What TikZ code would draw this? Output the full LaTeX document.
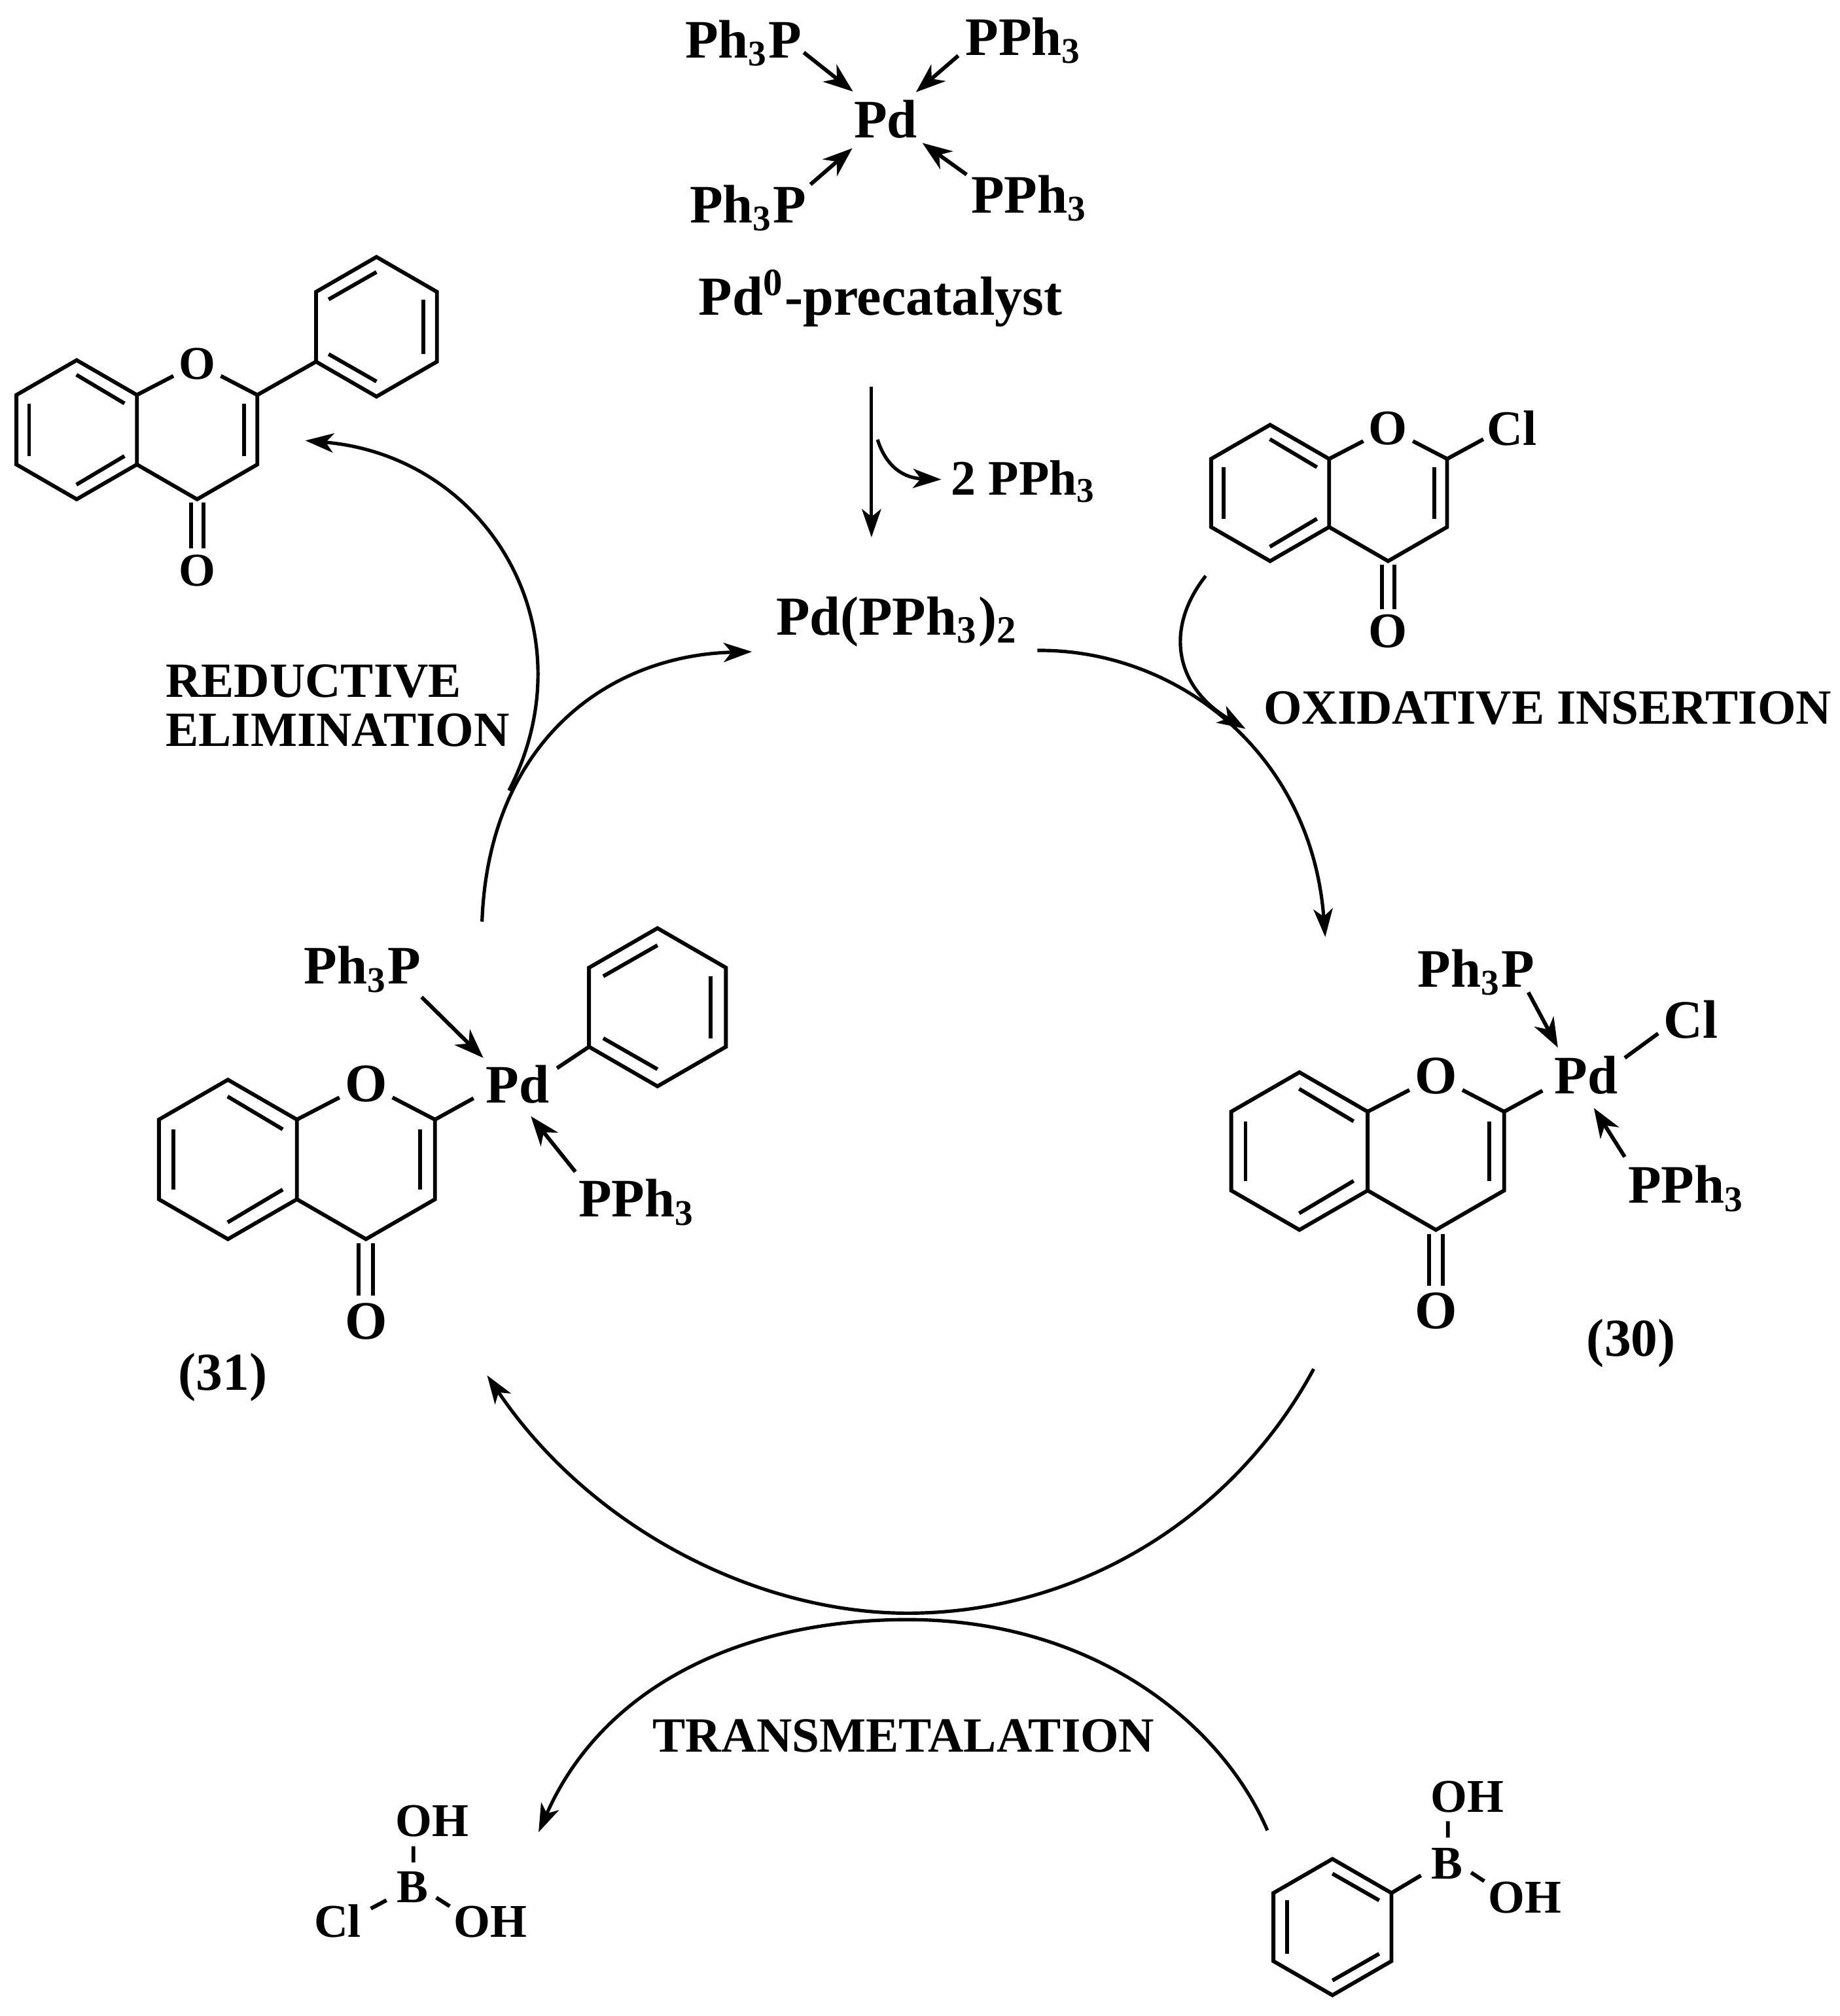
\documentclass[tikz,border=0pt]{standalone}
\usepackage{fontspec}
\setmainfont{Liberation Serif}
\usetikzlibrary{arrows.meta,calc}
\tikzset{
  bond/.style={line width=0.85pt},
  dat/.style={line width=0.85pt, -{Stealth[length=2.3mm,width=1.7mm,inset=.7mm]}},
  arcto/.style={line width=0.75pt, -{Stealth[length=2.2mm,width=1.5mm,inset=.6mm]}},
  atom/.style={inner sep=1pt, font=\fontsize{12}{12}\selectfont\bfseries},
  atoms/.style={inner sep=1pt, font=\fontsize{11}{11}\selectfont\bfseries},
  atomf/.style={inner sep=1pt, font=\fontsize{10.4}{10.4}\selectfont\bfseries},
  lig/.style={anchor=base, font=\fontsize{12}{12}\selectfont\bfseries},
  ligs/.style={anchor=base, font=\fontsize{10.4}{10.4}\selectfont\bfseries},
  step label/.style={anchor=base, inner sep=0pt, font=\fontsize{10.9}{10.9}\selectfont\bfseries},
  head/.style={anchor=base, font=\fontsize{12.2}{12.2}\selectfont\bfseries},
  cpd/.style={anchor=base, font=\fontsize{11.8}{11.8}\selectfont\bfseries},
}
\newcommand{\benzring}[2]{%
  \begin{scope}[#2]
    \draw[bond] (90:1) -- (30:1) -- (-30:1) -- (-90:1) -- (-150:1) -- (150:1) -- cycle;
    \draw[bond] (-.686,.392) -- (0,.784);
    \draw[bond] (.67,.392) -- (.67,-.392);
    \draw[bond] (-.686,-.392) -- (0,-.784);
    \coordinate (#1low) at (-150:1);
    \coordinate (#1up) at (150:1);
  \end{scope}}
\newcommand{\chromone}[3]{%
  \begin{scope}[#2]
    \draw[bond] (-1.732,.5) -- (-.866,1) -- (0,.5) -- (0,-.5) -- (-.866,-1) -- (-1.732,-.5) -- cycle;
    \draw[bond] (0,-.5) -- (.866,-1) -- (1.732,-.5) -- (1.732,.5);
    \draw[bond] (-1.55,.378) -- (-1.55,-.378);
    \draw[bond] (-.87,.79) -- (-.178,.378);
    \draw[bond] (-.87,-.79) -- (-.178,-.378);
    \draw[bond] (1.543,.378) -- (1.543,-.378);
    \draw[bond] (.776,-1.05) -- (.776,-1.71);
    \draw[bond] (.956,-1.05) -- (.956,-1.71);
    \coordinate (#1fus) at (0,.5);
    \coordinate (#1c) at (1.732,.5);
    \node[#3] (#1o) at (.866,.95) {O};
    \node[#3] (#1co) at (.866,-2.03) {O};
    \draw[bond] (#1fus) -- (#1o);
    \draw[bond] (#1o) -- (#1c);
  \end{scope}}
\begin{document}
\begin{tikzpicture}
\useasboundingbox (0,0) rectangle (14.31,-15.684);
\node[lig] (pd) at (6.89,-1.07) {Pd};
\node[lig] (ptl) at (5.785,-.45) {Ph\textsubscript{3}P};
\node[lig] (ptr) at (7.965,-.428) {PPh\textsubscript{3}};
\node[lig] (pbl) at (5.82,-1.733) {Ph\textsubscript{3}P};
\node[lig] (pbr) at (8.01,-1.656) {PPh\textsubscript{3}};
\draw[dat] ([shift={(.468,.042)}]ptl.base) -- ([shift={(-.254,.358)}]pd.base);
\draw[dat] ([shift={(-.51,-.005)}]ptr.base) -- ([shift={(.236,.353)}]pd.base);
\draw[dat] ([shift={(.485,.298)}]pbl.base) -- ([shift={(-.259,-.083)}]pd.base);
\draw[dat] ([shift={(-.49,.298)}]pbr.base) -- ([shift={(.286,-.042)}]pd.base);
\node[head] (pre) at (6.85,-2.45) {Pd\textsuperscript{0}-precatalyst};
\node[head] (act) at (6.98,-4.94) {Pd(PPh\textsubscript{3})\textsubscript{2}};
\node[step label, font=\fontsize{11}{11}\selectfont\bfseries] (loss) at (7.965,-3.85) {2 PPh\textsubscript{3}};
\draw[arcto] ([shift={(-.07,-.558)}]pre.base) -- ([shift={(-.2,.76)}]act.base);
\draw[arcto] ([shift={(-.023,-.97)}]pre.base) .. controls (6.9,-3.65) and (7.05,-3.72) .. ([shift={(-.642,.12)}]loss.base);

\chromone{fl}{shift={(1.065,-3.343)},scale=.541}{atomf}
\benzring{flph}{shift={(2.929,-2.542)},scale=.543}
\draw[bond] (flc) -- (flphlow);

\chromone{cc}{shift={(10.34,-3.835)},scale=.53}{atoms}
\node[atoms, anchor=base] (cccl) at (11.76,-3.466) {Cl};
\draw[bond] (ccc) -- ([shift={(-.22,.049)}]cccl.base);

\chromone{pa}{shift={(10.64,-8.955)},scale=.613}{atom}
\node[lig] (papd) at (12.341,-8.511) {Pd};
\node[lig] (pap) at (11.483,-7.678) {Ph\textsubscript{3}P};
\node[lig] (paq) at (13.12,-9.36) {PPh\textsubscript{3}};
\node[lig] (pacl) at (13.153,-8.077) {Cl};
\draw[dat] ([shift={(.407,-.042)}]pap.base) -- ([shift={(-.221,.361)}]papd.base);
\draw[dat] ([shift={(-.48,.36)}]paq.base) -- ([shift={(.059,-.109)}]papd.base);
\draw[bond] ([shift={(.299,.281)}]papd.base) -- ([shift={(-.253,.037)}]pacl.base);
\draw[bond] (pac) -- ([shift={(-.341,.026)}]papd.base);
\node[cpd] (c30) at (12.69,-10.55) {(30)};

\chromone{pb}{shift={(2.31,-9.02)},scale=.62}{atom}
\benzring{pbph}{shift={(5.115,-7.836)},scale=.615}
\node[lig] (pbpd) at (4.027,-8.58) {Pd};
\node[lig] (pbp) at (2.82,-7.655) {Ph\textsubscript{3}P};
\node[lig] (pbq) at (4.955,-9.467) {PPh\textsubscript{3}};
\draw[dat] ([shift={(.46,-.102)}]pbp.base) -- ([shift={(-.267,.35)}]pbpd.base);
\draw[dat] ([shift={(-.479,.351)}]pbq.base) -- ([shift={(.103,-.104)}]pbpd.base);
\draw[bond] (pbc) -- ([shift={(-.343,.036)}]pbpd.base);
\draw[bond] ([shift={(.306,.27)}]pbpd.base) -- (pbphlow);
\node[cpd] (c31) at (1.733,-10.817) {(31)};

\node[step label] (oxi) at (12.04,-5.634) {OXIDATIVE INSERTION};
\node[step label, anchor=base west] (red) at (1.283,-5.424) {REDUCTIVE};
\node[step label, anchor=base west] (eli) at (1.283,-5.808) {ELIMINATION};
\node[step label] (tra) at (7.03,-13.632) {TRANSMETALATION};

\node[ligs] (lb) at (3.21,-14.8) {B};
\node[ligs] (lo) at (3.363,-14.288) {OH};
\node[ligs] (lc) at (2.627,-15.068) {Cl};
\node[ligs] (lp) at (3.815,-15.068) {OH};
\draw[bond] ([shift={(.006,.31)}]lb.base) -- ([shift={(-.147,-.076)}]lo.base);
\draw[bond] ([shift={(-.203,.017)}]lb.base) -- ([shift={(.258,.22)}]lc.base);
\draw[bond] ([shift={(.184,.037)}]lb.base) -- ([shift={(-.316,.238)}]lp.base);

\benzring{rph}{shift={(10.366,-14.992)},scale=.53,xscale=-1}
\node[ligs] (rb) at (11.258,-14.615) {B};
\node[ligs] (ro) at (11.416,-14.096) {OH};
\node[ligs] (rp) at (11.864,-14.88) {OH};
\draw[bond] ([shift={(.006,.319)}]rb.base) -- ([shift={(-.152,-.073)}]ro.base);
\draw[bond] (rphup) -- ([shift={(-.203,.025)}]rb.base);
\draw[bond] ([shift={(.187,.047)}]rb.base) -- ([shift={(-.317,.245)}]rp.base);

\coordinate (aa) at (8.07,-5.06);
\coordinate (ab) at (10.31,-7.29);
\coordinate (ba) at (3.75,-7.17);
\coordinate (bb) at (5.85,-5.07);
\coordinate (ca) at (3.96,-6.15);
\coordinate (cb) at (2.375,-3.427);
\coordinate (da) at (9.38,-4.48);
\coordinate (db) at (9.69,-5.67);
\coordinate (ea) at (10.22,-10.65);
\coordinate (eb) at (3.79,-10.7);
\coordinate (fa) at (9.86,-14.24);
\coordinate (fb) at (4.19,-14.254);
\draw[arcto] (aa) .. controls (9.15,-5.05) and (10.2,-5.85) .. (ab);
\draw[arcto] (ba) .. controls (3.8,-5.8) and (4.7,-5.1) .. (bb);
\draw[arcto] (ca) .. controls (4.6,-4.9) and (3.8,-3.55) .. (cb);
\draw[arcto] (da) .. controls (9.05,-4.9) and (9.15,-5.35) .. (db);
\draw[arcto] (ea) .. controls (9.6,-11.8) and (8.4,-12.55) .. (7.06,-12.55) .. controls (5.9,-12.55) and (4.6,-11.9) .. (eb);
\draw[arcto] (fa) .. controls (9.5,-13.4) and (8.5,-12.6) .. (7.06,-12.6) .. controls (5.8,-12.6) and (4.7,-13.1) .. (fb);
\end{tikzpicture}
\end{document}
